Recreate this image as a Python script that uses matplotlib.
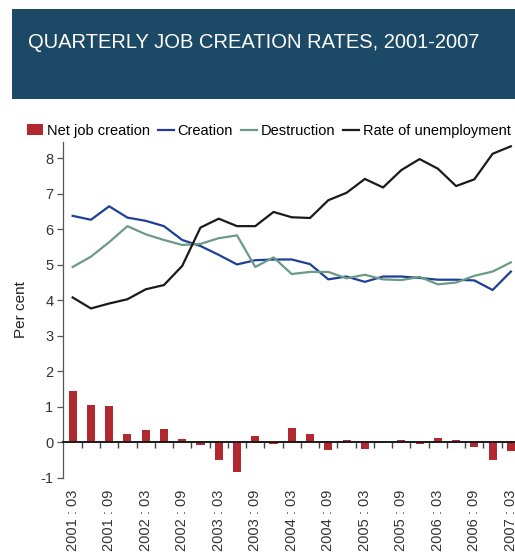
import numpy as np
import matplotlib
matplotlib.use("Agg")
import matplotlib.pyplot as plt
from matplotlib.patches import Rectangle, Patch
from matplotlib.lines import Line2D

plt.rcParams['font.family'] = ['Liberation Sans', 'DejaVu Sans']
plt.rcParams['axes.unicode_minus'] = False

quarters = ["2001 : 03", "2001 : 06", "2001 : 09", "2001 : 12",
            "2002 : 03", "2002 : 06", "2002 : 09", "2002 : 12",
            "2003 : 03", "2003 : 06", "2003 : 09", "2003 : 12",
            "2004 : 03", "2004 : 06", "2004 : 09", "2004 : 12",
            "2005 : 03", "2005 : 06", "2005 : 09", "2005 : 12",
            "2006 : 03", "2006 : 06", "2006 : 09", "2006 : 12",
            "2007 : 03"]

net_creation = [1.45, 1.05, 1.02, 0.23, 0.35, 0.38, 0.09, -0.07, -0.50, -0.84,
                0.18, -0.04, 0.40, 0.23, -0.22, 0.06, -0.19, 0.03, 0.06, -0.05,
                0.12, 0.06, -0.13, -0.50, -0.24]

creation = [6.38, 6.27, 6.65, 6.33, 6.24, 6.09, 5.70, 5.53, 5.28, 5.01,
            5.13, 5.15, 5.15, 5.02, 4.59, 4.67, 4.52, 4.67, 4.67, 4.63,
            4.58, 4.58, 4.56, 4.29, 4.81]

destruction = [4.94, 5.23, 5.64, 6.09, 5.86, 5.70, 5.56, 5.59, 5.75, 5.83,
               4.94, 5.21, 4.74, 4.80, 4.80, 4.62, 4.72, 4.59, 4.57, 4.66,
               4.45, 4.50, 4.69, 4.81, 5.07]

unemployment = [4.08, 3.77, 3.91, 4.03, 4.31, 4.43, 4.97, 6.05, 6.30, 6.09,
                6.09, 6.49, 6.34, 6.32, 6.82, 7.03, 7.42, 7.18, 7.67, 7.98,
                7.71, 7.22, 7.41, 8.13, 8.34]

yticks = [-1, 0, 1, 2, 3, 4, 5, 6, 7, 8]

BAR = '#B1292F'
BLUE = '#1E3F98'
GREEN = '#6B9A86'
BLACK = '#1A1A1A'
HEADER = '#1C4966'

W, H = 515, 552
fig = plt.figure(figsize=(W / 100, H / 100), dpi=100)

# header band with title
fig.add_artist(Rectangle((12 / W, 1 - 99.3 / H), 1.0, 90.3 / H,
                         transform=fig.transFigure, facecolor=HEADER,
                         edgecolor='none', zorder=0))
fig.text(28 / W, 1 - 48 / H, "QUARTERLY JOB CREATION RATES, 2001-2007",
         color='white', fontsize=14.5, va='baseline', ha='left')

# plot area
x0, x1 = 63, 520
y_top, y_bot = 141.7, 477.7
ax = fig.add_axes([x0 / W, 1 - y_bot / H, (x1 - x0) / W, (y_bot - y_top) / H])

x = np.arange(len(quarters))
ax.bar(x, net_creation, width=0.44, color=BAR, zorder=2)
ax.plot(x, creation, color=BLUE, lw=1.6, zorder=3)
ax.plot(x, destruction, color=GREEN, lw=1.6, zorder=3)
ax.plot(x, unemployment, color=BLACK, lw=1.6, zorder=3)

ax.set_xlim(-0.53, 24.5)
ax.set_ylim(-1, 8.47)

for s in ['top', 'right']:
    ax.spines[s].set_visible(False)
ax.spines['left'].set_color('#555555')
ax.spines['left'].set_linewidth(0.9)
ax.spines['left'].set_bounds(-1, 8.47)
ax.spines['bottom'].set_position(('data', 0))
ax.spines['bottom'].set_color('#1a1a1a')
ax.spines['bottom'].set_linewidth(1.4)
ax.spines['bottom'].set_zorder(4)

ax.set_yticks(yticks)
ax.tick_params(axis='y', direction='out', length=4, width=0.9, color='#555555',
               labelsize=10.5, labelcolor='#333333', pad=3)

ax.set_xticks(x[::2])
ax.set_xticklabels(quarters[::2], rotation=90, fontsize=10.5, color='#333333')
ax.set_xticks(x[:-1] + 0.5, minor=True)
ax.tick_params(axis='x', which='major', length=0, pad=34.3)
ax.tick_params(axis='x', which='minor', direction='out', length=4, width=1.0,
               color='#444444')

ax.set_ylabel("Per cent", fontsize=11, color='#222222', labelpad=9)

handles = [Patch(facecolor=BAR, edgecolor='none', label='Net job creation'),
           Line2D([], [], color=BLUE, lw=1.6, label='Creation'),
           Line2D([], [], color=GREEN, lw=1.6, label='Destruction'),
           Line2D([], [], color=BLACK, lw=1.6, label='Rate of unemployment')]
fig.legend(handles=handles, loc='center left', bbox_to_anchor=(27 / W, 1 - 130.7 / H),
           ncol=4, frameon=False, fontsize=10.5, handlelength=1.1,
           handletextpad=0.25, columnspacing=0.55, borderaxespad=0, borderpad=0)

fig.savefig("out.png", dpi=100)
